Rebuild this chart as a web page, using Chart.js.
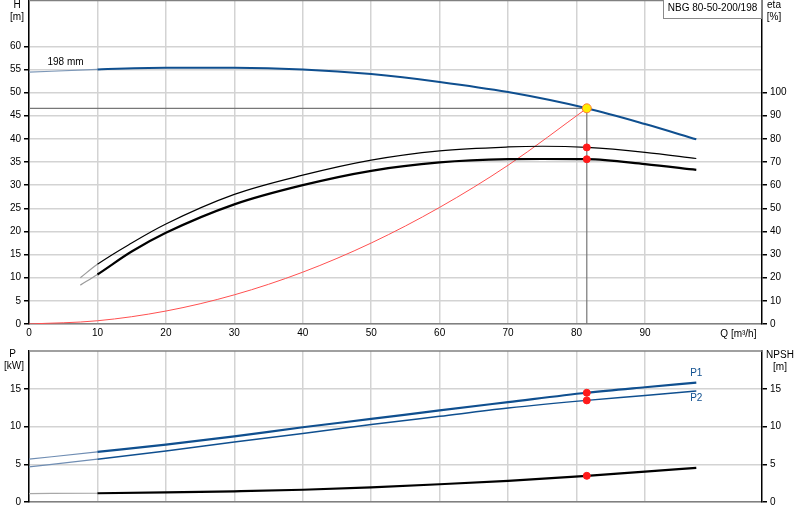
<!DOCTYPE html>
<html>
<head>
<meta charset="utf-8">
<script src="https://cdn.jsdelivr.net/npm/chart.js@4.4.1/dist/chart.umd.min.js"></script>
<style>
body { margin: 0; background: #fff; }
#wrap { position: relative; width: 800px; height: 520px; }
#top { position: absolute; left: 0; top: 0; }
#bottom { position: absolute; left: 0; top: 345px; }
</style>
</head>
<body>
<div id="wrap">
<canvas id="top" width="800" height="345"></canvas>
<canvas id="bottom" width="800" height="175"></canvas>
</div>
<script>
// pump curve, 198 mm impeller
let flowH = [0, 10, 20, 30, 40, 50, 60, 70, 81.5, 90, 97.5];
let head = [54.4, 55.0, 55.35, 55.35, 55.0, 54.0, 52.3, 50.1, 46.6, 43.2, 39.9];

// efficiency curves (right axis)
let flowEta = [7.5, 10, 15, 20, 30, 40, 50, 60, 70, 75, 81.5, 90, 97.5];
let etaUpper = [20.0, 25.8, 35.0, 43.2, 56.0, 64.3, 70.8, 74.8, 76.5, 76.8, 76.3, 74.2, 71.5];
let etaLower = [16.8, 21.4, 31.3, 39.4, 51.7, 60.0, 66.2, 69.8, 71.2, 71.3, 71.2, 69.1, 66.6];

// system curve
let flowSys = [0, 10, 20, 30, 40, 50, 60, 70, 81.5];
let headSys = [0, 0.7, 2.8, 6.3, 11.2, 17.5, 25.2, 34.3, 46.6];

// power and NPSH
let flowP = [0, 10, 20, 30, 40, 50, 60, 70, 81.5, 90, 97.5];
let powerP1 = [5.67, 6.64, 7.6, 8.7, 9.9, 11.0, 12.14, 13.23, 14.47, 15.2, 15.8];
let powerP2 = [4.66, 5.67, 6.77, 7.96, 9.06, 10.25, 11.35, 12.44, 13.46, 14.1, 14.7];
let npsh = [1.12, 1.16, 1.27, 1.42, 1.62, 1.94, 2.35, 2.81, 3.47, 4.03, 4.53];

// duty point
let dutyQ = 81.5;
let dutyH = 46.6;

// axes
let qMax = 107.1, qLabelMax = 90;
let hMax = 70, hLabelMax = 60;
let etaMax = 140, etaLabelMax = 100;
let pMax = 20, pLabelMax = 15;

const BLUE = '#0f4f8f';
const FONT = "'Liberation Sans', Arial, sans-serif";
Chart.defaults.font.family = FONT;
Chart.defaults.font.size = 10;
Chart.defaults.color = '#000';

function pts(xs, ys) {
    return xs.map((x, i) => ({x: x, y: ys[i]}));
}

// lighter stroke for the part below the allowed flow range
function ext(light, from) {
    return {
        borderColor: c => c.p0.parsed.x < from ? light : undefined,
        borderWidth: c => c.p0.parsed.x < from ? 1.2 : undefined
    };
}

// curve with a marker only at the duty point
function line(data, color, width, axis, extra, dotFill, dotEdge, r) {
    return Object.assign({
        data: data, borderColor: color, borderWidth: width, yAxisID: axis,
        cubicInterpolationMode: 'monotone', fill: false,
        pointRadius: c => (dotFill && c.raw && c.raw.x === dutyQ) ? (r || 3.5) : 0,
        pointBackgroundColor: dotFill || 'transparent',
        pointBorderColor: dotEdge || dotFill || 'transparent',
        pointBorderWidth: 1
    }, extra || {});
}

function xScale(showLabels, height) {
    return {
        type: 'linear', min: 0, max: qMax,
        ticks: {stepSize: 10, display: showLabels, padding: 3, maxRotation: 0,
            callback: v => (v <= qLabelMax && v % 10 === 0) ? v : null},
        grid: {color: '#d3d3d3', lineWidth: 1.5, drawTicks: false},
        border: {color: '#808080', width: 1.5},
        afterFit: s => { s.height = height; s.paddingLeft = 0; s.paddingRight = 0; }
    };
}

function yScale(pos, max, step, labelMax, grid, width) {
    return {
        type: 'linear', position: pos, min: 0, max: max,
        ticks: {stepSize: step, padding: 3, callback: v => v <= labelMax ? v : null},
        grid: {
            drawOnChartArea: grid, color: '#d3d3d3', lineWidth: 1.5, tickLength: 5,
            tickColor: c => (c.tick && c.tick.value <= labelMax) ? '#000' : 'rgba(0,0,0,0)'
        },
        border: {color: '#000', width: 1.5},
        afterFit: s => { s.width = width; s.paddingTop = 0; s.paddingBottom = 0; }
    };
}

function text(ctx, t, x, y, align, color) {
    ctx.textAlign = align || 'center';
    ctx.textBaseline = 'middle';
    ctx.fillStyle = color || '#000';
    ctx.fillText(t, x, y);
}

const RED = '#ff1a1a';

// TOP PANEL: head, efficiency
new Chart(document.getElementById('top'), {
    type: 'line',
    data: {
        datasets: [
            line(pts(flowH, head), BLUE, 2, 'y', {segment: ext('#7d98b8', 10)}, '#ffee00', '#ff7a30', 4.5),
            line(pts(flowEta, etaUpper), '#000', 1.2, 'yEta', {segment: ext('#9a9a9a', 10)}, RED),
            line(pts(flowEta, etaLower), '#000', 2.2, 'yEta', {segment: ext('#9a9a9a', 10)}, RED),
            line([{x: 0, y: dutyH}, {x: dutyQ, y: dutyH}, {x: dutyQ, y: 0}], '#777', 1.2, 'y',
                {cubicInterpolationMode: 'default', tension: 0}),
            line(pts(flowSys, headSys), '#ff5050', 1, 'y')
        ]
    },
    options: {
        responsive: false, animation: false,
        layout: {padding: 0},
        plugins: {legend: {display: false}, tooltip: {enabled: false}},
        scales: {
            x: xScale(true, 21),
            y: yScale('left', hMax, 5, hLabelMax, true, 29),
            yEta: yScale('right', etaMax, 10, etaLabelMax, false, 38)
        }
    },
    plugins: [{
        id: 'topText',
        afterDraw(chart) {
            const ctx = chart.ctx, a = chart.chartArea, x = chart.scales.x, y = chart.scales.y;
            ctx.save();
            ctx.strokeStyle = '#808080';
            ctx.lineWidth = 1.5;
            ctx.beginPath();
            ctx.moveTo(a.left, a.top + 0.5);
            ctx.lineTo(a.right, a.top + 0.5);
            ctx.stroke();
            ctx.font = '10px ' + FONT;
            text(ctx, 'H', a.left - 12, 5);
            text(ctx, '[m]', a.left - 12, 17);
            text(ctx, 'eta', a.right + 12, 5);
            text(ctx, '[%]', a.right + 12, 17);
            text(ctx, 'Q [m³/h]', x.getPixelForValue(100) + 25, a.bottom + 10);
            text(ctx, '198 mm', x.getPixelForValue(2.7), y.getPixelForValue(56.6), 'left');
            // model box
            ctx.fillStyle = '#fff';
            ctx.fillRect(663, -1, 99, 20);
            ctx.strokeStyle = '#8a8a8a';
            ctx.lineWidth = 1;
            ctx.strokeRect(663.5, -1, 98, 19.5);
            text(ctx, 'NBG 80-50-200/198', 712.5, 8);
            ctx.restore();
        }
    }]
});

// BOTTOM PANEL: power, NPSH
new Chart(document.getElementById('bottom'), {
    type: 'line',
    data: {
        datasets: [
            line(pts(flowP, powerP1), BLUE, 2.2, 'y', {segment: ext('#6f8db3', 10)}, RED),
            line(pts(flowP, powerP2), BLUE, 1.5, 'y', {segment: ext('#6f8db3', 10)}, RED),
            line(pts(flowP, npsh), '#000', 2.2, 'yN', {segment: ext('#a8a8a8', 10)}, RED)
        ]
    },
    options: {
        responsive: false, animation: false,
        layout: {padding: {top: 6, left: 0, right: 0, bottom: 0}},
        plugins: {legend: {display: false}, tooltip: {enabled: false}},
        scales: {
            x: xScale(false, 18),
            y: yScale('left', pMax, 5, pLabelMax, true, 29),
            yN: yScale('right', pMax, 5, pLabelMax, false, 38)
        }
    },
    plugins: [{
        id: 'bottomText',
        afterDraw(chart) {
            const ctx = chart.ctx, a = chart.chartArea, x = chart.scales.x, y = chart.scales.y;
            ctx.save();
            ctx.strokeStyle = '#808080';
            ctx.lineWidth = 1.5;
            ctx.beginPath();
            ctx.moveTo(a.left, a.top);
            ctx.lineTo(a.right, a.top);
            ctx.stroke();
            ctx.font = '10px ' + FONT;
            text(ctx, 'P', 12.5, 9);
            text(ctx, '[kW]', 14, 21.5);
            text(ctx, 'NPSH', a.right + 18, 10.5);
            text(ctx, '[m]', a.right + 18, 22);
            let qEnd = flowP[flowP.length - 1];
            text(ctx, 'P1', x.getPixelForValue(qEnd), y.getPixelForValue(powerP1[powerP1.length - 1]) - 9, 'center', BLUE);
            text(ctx, 'P2', x.getPixelForValue(qEnd), y.getPixelForValue(powerP2[powerP2.length - 1]) + 7, 'center', BLUE);
            ctx.restore();
        }
    }]
});
</script>
</body>
</html>
